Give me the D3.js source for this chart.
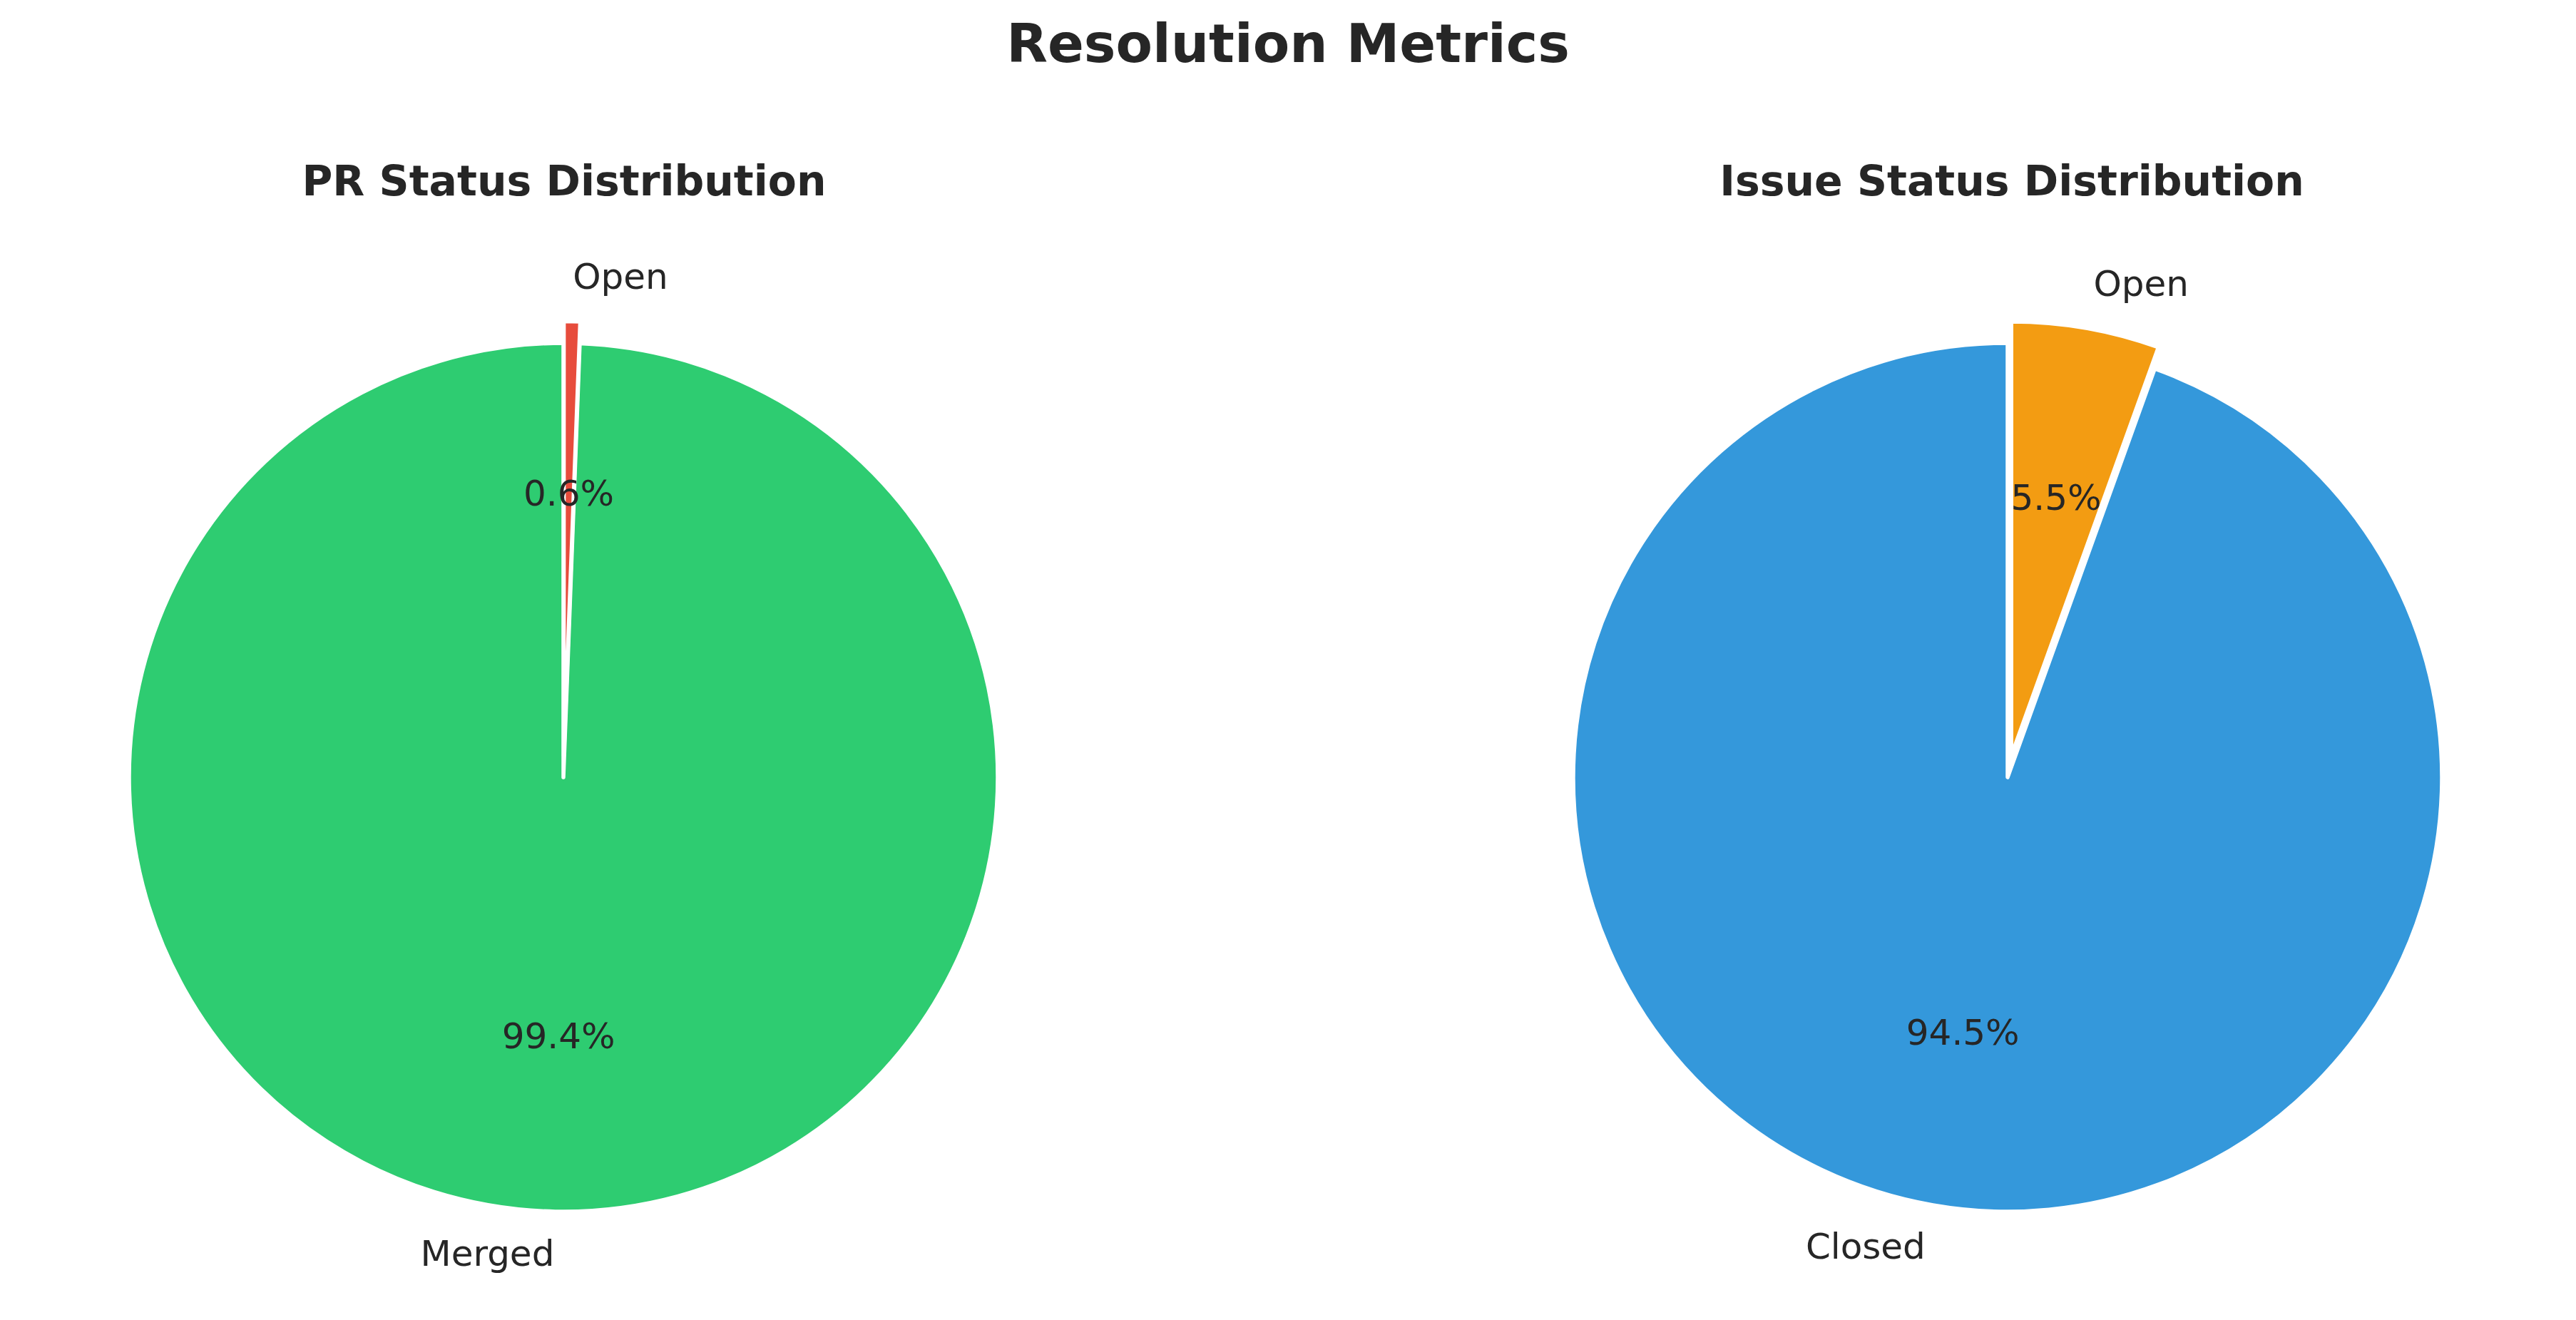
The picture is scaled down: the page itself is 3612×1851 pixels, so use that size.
<!DOCTYPE html>
<html>
<head>
<meta charset="utf-8">
<script src="https://cdn.jsdelivr.net/npm/d3@7"></script>
<style>
  html, body { margin: 0; padding: 0; background: #ffffff; }
  svg { display: block; }
  text { font-family: "DejaVu Sans", sans-serif; fill: #262626; }
</style>
</head>
<body>
<svg id="chart" width="3612" height="1851"></svg>
<script>
// ---- data ----
const figureTitle = "Resolution Metrics";
const prTitle = "PR Status Distribution";
const prLabels = ["Merged", "Open"];
const prValues = [99.4, 0.6];
const prColors = ["#2ecc71", "#e74c3c"];
const prExplode = [0, 0.05];

const issueTitle = "Issue Status Distribution";
const issueLabels = ["Closed", "Open"];
const issueValues = [94.5, 5.5];
const issueColors = ["#3498db", "#f39c12"];
const issueExplode = [0, 0.05];

// ---- layout ----
const W = 3612, H = 1851;
const svg = d3.select("#chart");

svg.append("text")
  .attr("x", W / 2).attr("y", 87)
  .attr("text-anchor", "middle")
  .style("font-size", "75px").style("font-weight", "bold")
  .text(figureTitle);

function drawPie(cx, cy, radius, titleX, title, labels, values, colors, explode) {
  const g = svg.append("g").attr("transform", `translate(${cx},${cy})`);
  svg.append("text")
    .attr("x", titleX).attr("y", 274)
    .attr("text-anchor", "middle")
    .style("font-size", "58.4px").style("font-weight", "bold")
    .text(title);

  const data = values.map((v, i) => ({ label: labels[i], value: v, color: colors[i], explode: explode[i] }));
  const total = d3.sum(values);
  // counter-clockwise from 12 o'clock (matplotlib startangle=90)
  const pie = d3.pie().sort(null).value(d => d.value).startAngle(0).endAngle(-2 * Math.PI);
  const arcs = pie(data);
  const arc = d3.arc().innerRadius(0).outerRadius(radius);

  arcs.forEach(a => {
    const mid = (a.startAngle + a.endAngle) / 2;
    const ux = Math.sin(mid), uy = -Math.cos(mid);
    const off = a.data.explode * radius;
    const wg = g.append("g").attr("transform", `translate(${ux * off},${uy * off})`);
    wg.append("path")
      .attr("d", arc(a))
      .attr("fill", a.data.color)
      .attr("stroke", "#ffffff")
      .attr("stroke-width", 5.5)
      .attr("stroke-linejoin", "round");
  });

  arcs.forEach(a => {
    const mid = (a.startAngle + a.endAngle) / 2;
    const ux = Math.sin(mid), uy = -Math.cos(mid);
    const off = a.data.explode * radius;
    const lx = ux * (off + 1.1 * radius), ly = uy * (off + 1.1 * radius);
    g.append("text")
      .attr("x", lx).attr("y", ly - 2)
      .attr("text-anchor", lx > 0 ? "start" : "end")
      .attr("dominant-baseline", "central")
      .style("font-size", "50px")
      .text(a.data.label);
    const px = ux * (off + 0.6 * radius), py = uy * (off + 0.6 * radius);
    g.append("text")
      .attr("x", px).attr("y", py - 2)
      .attr("text-anchor", "middle")
      .attr("dominant-baseline", "central")
      .style("font-size", "50px")
      .text((a.data.value / total * 100).toFixed(1) + "%");
  });
}

drawPie(790, 1090, 609, 791, prTitle, prLabels, prValues, prColors, prExplode);
drawPie(2815, 1090, 609, 2821, issueTitle, issueLabels, issueValues, issueColors, issueExplode);
</script>
</body>
</html>
